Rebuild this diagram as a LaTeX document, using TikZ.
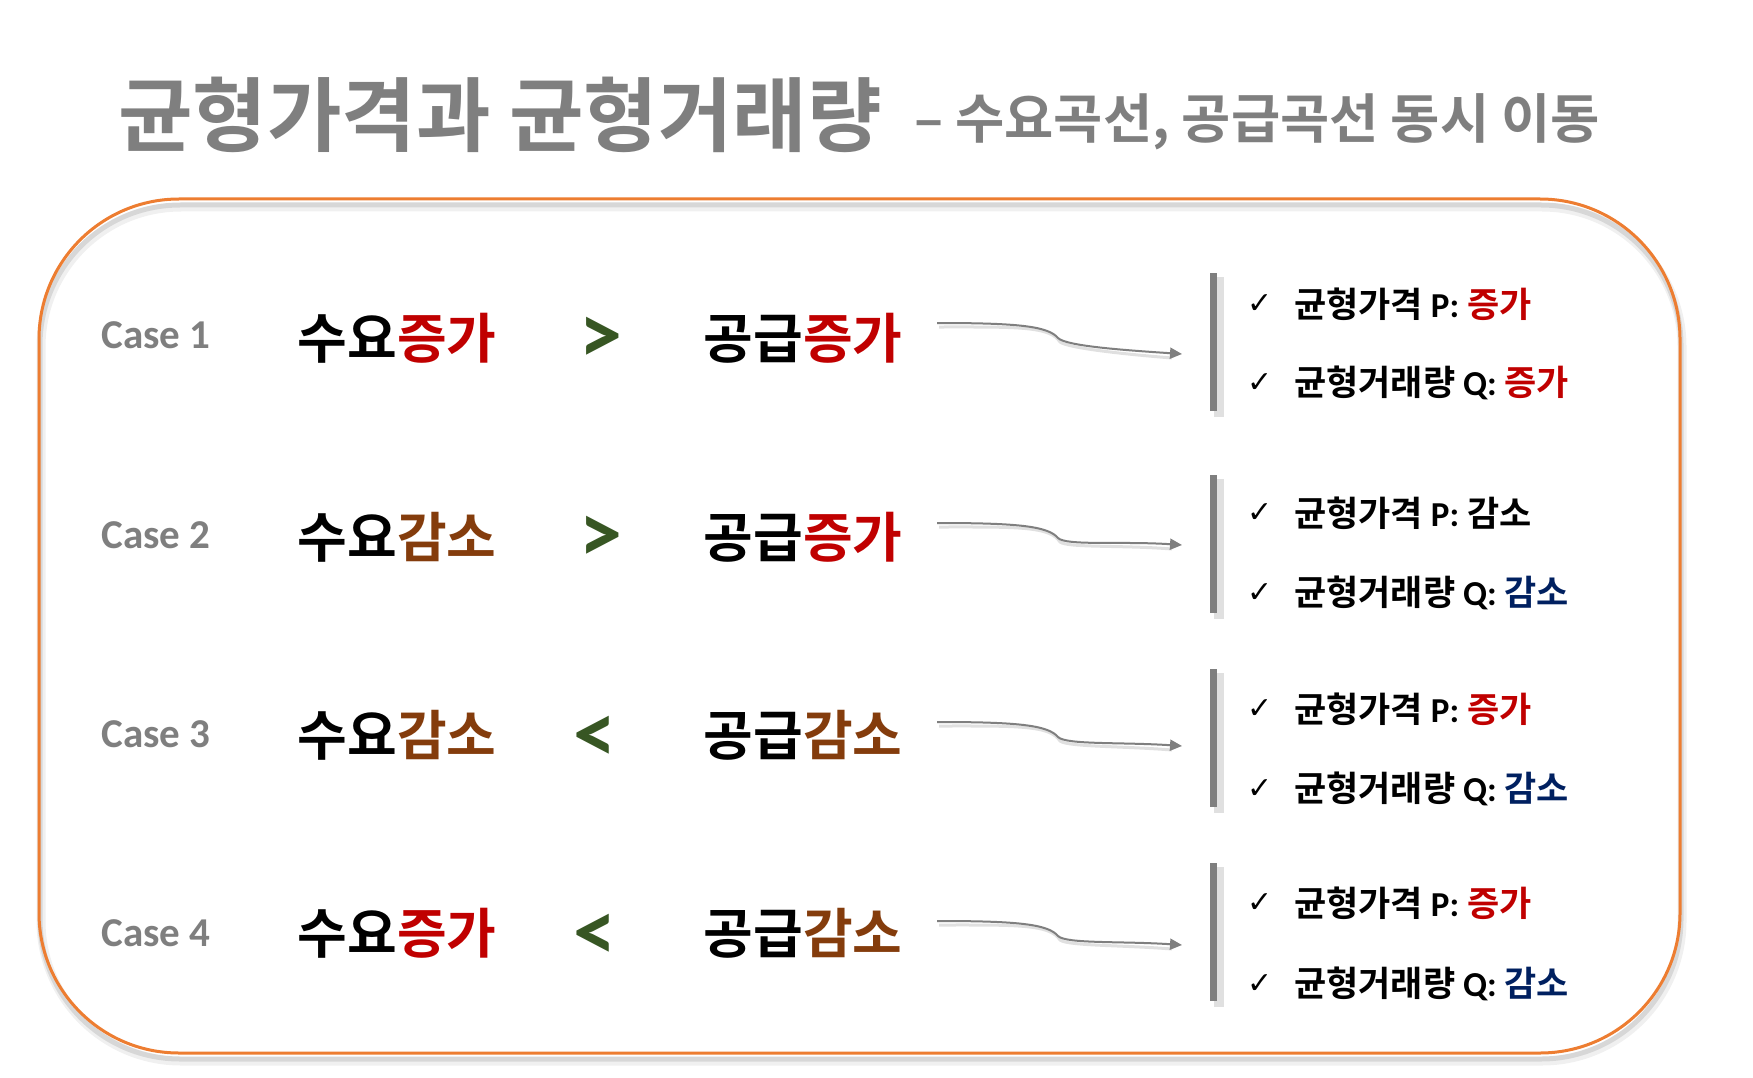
\documentclass[tikz,border=0pt]{standalone}
\usepackage{fontspec}
\usetikzlibrary{arrows.meta}
\newfontfamily\krb{Noto Sans CJK KR Bold}
\newfontfamily\calfam{Carlito}
\newfontfamily\symfam{DejaVu Sans}
\definecolor{tgray}{HTML}{7F7F7F}
\definecolor{kred}{HTML}{C00000}
\definecolor{kbrown}{HTML}{843C0C}
\definecolor{kgreen}{HTML}{375623}
\definecolor{knavy}{HTML}{002060}
\definecolor{korange}{HTML}{ED7D31}
\newcommand\lat[1]{{\calfam\bfseries #1}}
\newcommand\up{\textcolor{kred}{증가}}
\newcommand\dnb{\textcolor{kbrown}{감소}}
\newcommand\dnn{\textcolor{knavy}{감소}}
\begin{document}
\begin{tikzpicture}[x=1pt,y=-1pt,
  title/.style={font=\krb\fontsize{81}{86}\selectfont, text=tgray, anchor=west, inner sep=0},
  subtitle/.style={font=\krb\fontsize{53.5}{58}\selectfont, text=tgray, anchor=west, inner sep=0},
  caselbl/.style={font=\calfam\bfseries\fontsize{41}{46}\selectfont, text=tgray, inner sep=0},
  big/.style={font=\krb\fontsize{54}{60}\selectfont, inner sep=0},
  cmp/.style={font=\calfam\bfseries\fontsize{86}{90}\selectfont, text=kgreen, inner sep=0},
  res/.style={font=\krb\fontsize{35}{40}\selectfont, anchor=west, inner sep=0},
  chk/.style={font=\symfam\fontsize{30}{32}\selectfont, inner sep=0},
  bar/.style={fill=tgray, draw=none},
  barshadow/.style={fill=black, opacity=0.12, draw=none},
  conn/.style={draw=tgray, line width=2pt, -{Triangle[length=12pt,width=11pt]}},
  connshadow/.style={draw=black, opacity=0.12, line width=3pt},
]
\useasboundingbox (0,0) rectangle (1753,1078);
\fill[white] (0,0) rectangle (1753,1078);

% title
\node[title] (t1) at (118,115) {균형가격과 균형거래량};
\node[subtitle] (t2) at (914,122) {– 수요곡선, 공급곡선 동시 이동};

% frame with outline shadow
\draw[black, opacity=0.06, line width=9pt, rounded corners=140pt] (41,207) rectangle (1682,1061);
\draw[black, opacity=0.10, line width=5pt, rounded corners=140pt] (40,205) rectangle (1681,1059);
\draw[korange, line width=3pt, rounded corners=140pt] (39,199) rectangle (1680,1053);

% rows
\foreach \i/\y/\bt/\bb/\ra/\rb/\ey in {1/335/273/411/304/383/354, 2/535/475/613/513/593/545, 3/734/669/807/709/789/746, 4/933/863/1001/903/984/945}{
  \node[caselbl] (case\i) at (156,\y) {Case \i};
  \coordinate (s\i) at (937,\y-12);
  \coordinate (m\i) at (1058,\y+3);
  \coordinate (e\i) at (1182,\ey);
  \draw[connshadow] ([shift={(2,4)}]s\i) .. controls ([shift={(80,4)}]s\i) and ([shift={(-8,-12)}]m\i) .. ([shift={(2,4)}]m\i) .. controls ([shift={(10,10)}]m\i) and ([shift={(-60,0)}]e\i) .. ([shift={(-10,4)}]e\i);
  \draw[conn] (s\i) .. controls ([shift={(80,0)}]s\i) and ([shift={(-10,-12)}]m\i) .. (m\i) .. controls ([shift={(8,8)}]m\i) and ([shift={(-60,-4)}]e\i) .. (e\i);
  \fill[barshadow] (1214,\bt+4) rectangle (1224,\bb+6);
  \fill[bar] (1210,\bt) rectangle (1217,\bb);
  \node[chk] (ka\i) at (1260,\ra) {✓};
  \node[chk] (kb\i) at (1260,\rb) {✓};
}

% row 1
\node[big] (d1) at (397,338) {수요\up};
\node[cmp] (c1) at (601,340) {>};
\node[big] (g1) at (803,338) {공급\up};
\node[res] (p1) at (1294,304) {균형가격 \lat{P:} \up};
\node[res] (q1) at (1294,383) {균형거래량 \lat{Q:} \up};

% row 2
\node[big] (d2) at (397,537) {수요\dnb};
\node[cmp] (c2) at (601,539) {>};
\node[big] (g2) at (803,537) {공급\up};
\node[res] (p2) at (1294,513) {균형가격 \lat{P:} 감소};
\node[res] (q2) at (1294,593) {균형거래량 \lat{Q:} \dnn};

% row 3
\node[big] (d3) at (397,735) {수요\dnb};
\node[cmp] (c3) at (595,739) {<};
\node[big] (g3) at (803,735) {공급\dnb};
\node[res] (p3) at (1294,709) {균형가격 \lat{P:} \up};
\node[res] (q3) at (1294,789) {균형거래량 \lat{Q:} \dnn};

% row 4
\node[big] (d4) at (397,933) {수요\up};
\node[cmp] (c4) at (595,937) {<};
\node[big] (g4) at (803,933) {공급\dnb};
\node[res] (p4) at (1294,903) {균형가격 \lat{P:} \up};
\node[res] (q4) at (1294,984) {균형거래량 \lat{Q:} \dnn};
\end{tikzpicture}
\end{document}
